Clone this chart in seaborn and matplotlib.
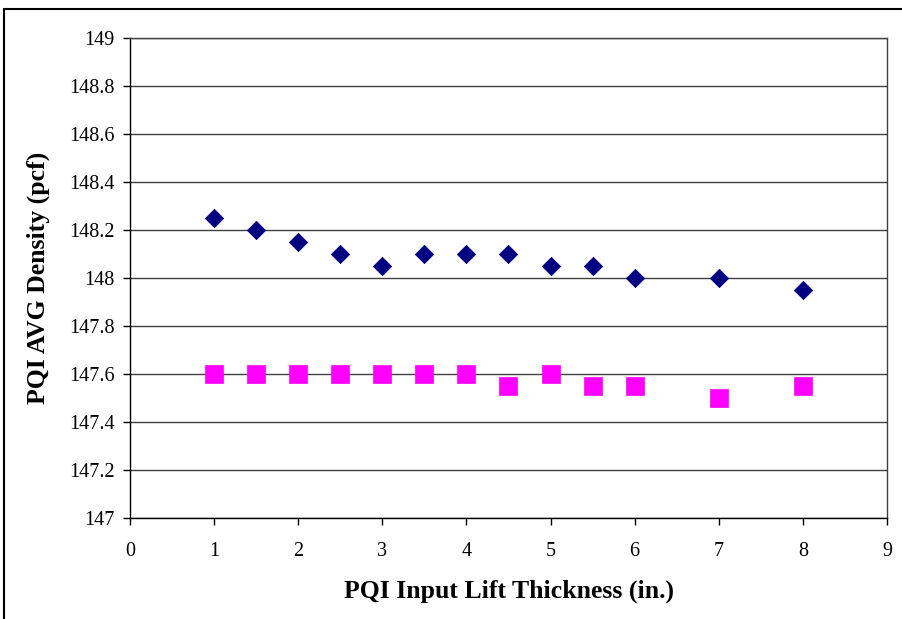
import numpy as np
import pandas as pd
import seaborn as sns
import matplotlib.pyplot as plt
from matplotlib.patches import Rectangle

# lift thickness (in.)
lift_in = [1, 1.5, 2, 2.5, 3, 3.5, 4, 4.5, 5, 5.5, 6, 7, 8]
# two PQI density series (pcf)
density_a = [148.25, 148.2, 148.15, 148.1, 148.05, 148.1, 148.1, 148.1,
             148.05, 148.05, 148.0, 148.0, 147.95]
density_b = [147.6, 147.6, 147.6, 147.6, 147.6, 147.6, 147.6, 147.55,
             147.6, 147.55, 147.55, 147.5, 147.55]

x_ticks = list(range(0, 10))
y_ticks = [147, 147.2, 147.4, 147.6, 147.8, 148, 148.2, 148.4, 148.6, 148.8, 149]
y_tick_labels = ['147', '147.2', '147.4', '147.6', '147.8', '148',
                 '148.2', '148.4', '148.6', '148.8', '149']

sns.set_style('white')
plt.rcParams['font.family'] = ['Liberation Serif', 'DejaVu Serif']

fig = plt.figure(figsize=(9.02, 6.19), dpi=100)
ax = fig.add_axes([130 / 902, 1 - 518 / 619, 757 / 902, 480 / 619])

# excel style markers
diamond = [(0, 1), (1, 0), (0, -1), (-1, 0), (0, 1)]
square = [(-1, -1), (1, -1), (1, 1), (-1, 1), (-1, -1)]

df_a = pd.DataFrame({'x': lift_in, 'y': density_a})
df_b = pd.DataFrame({'x': lift_in, 'y': density_b})
sns.scatterplot(data=df_a, x='x', y='y', ax=ax, marker=diamond, s=175,
                color='#000080', edgecolor='#000080', linewidth=0.5, zorder=3)
sns.scatterplot(data=df_b, x='x', y='y', ax=ax, marker=square, s=150,
                color='#FF00FF', edgecolor='#FF00FF', linewidth=0.5, zorder=3)

ax.set_xlim(0, 9)
ax.set_ylim(147, 149)
ax.set_xticks(x_ticks)
ax.set_yticks(y_ticks)
ax.set_yticklabels(y_tick_labels)
ax.grid(axis='y', color='#404040', linewidth=1)
ax.grid(axis='x', visible=False)
ax.set_axisbelow(True)

ax.tick_params(axis='both', direction='out', length=5, width=1, color='black',
               labelsize=14.5, pad=6, left=True, bottom=True)
ax.tick_params(axis='x', pad=12)
for side in ['left', 'bottom']:
    ax.spines[side].set_color('black')
    ax.spines[side].set_linewidth(1)
for side in ['top', 'right']:
    ax.spines[side].set_color('#404040')
    ax.spines[side].set_linewidth(1)

ax.set_xlabel('PQI Input Lift Thickness (in.)', fontsize=18.5, fontweight='bold',
              labelpad=14, color='black')
ax.set_ylabel('PQI AVG Density (pcf)', fontsize=18.5, fontweight='bold',
              labelpad=14, color='black')
for lbl in ax.get_xticklabels() + ax.get_yticklabels():
    lbl.set_color('black')

# chart area border
fig.patches.append(Rectangle((4 / 902, -0.1), 1.2, 1 - 9 / 619 + 0.1,
                             transform=fig.transFigure, fill=False,
                             edgecolor='black', linewidth=1.5))

fig.savefig('out.png', dpi=100)
